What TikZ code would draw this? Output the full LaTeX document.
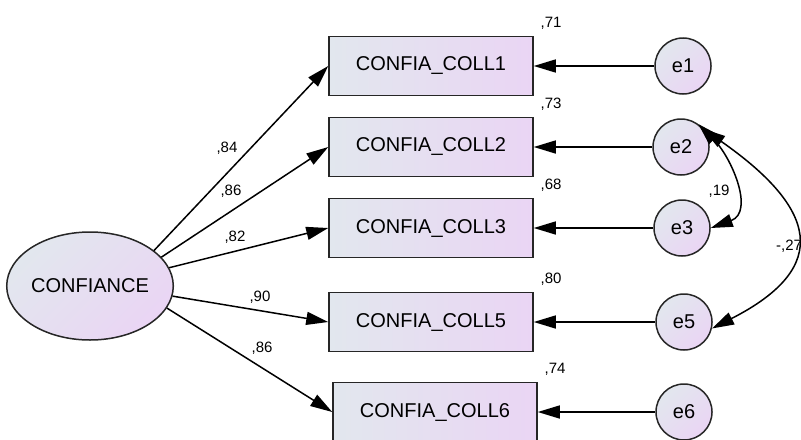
\documentclass[tikz,border=0pt]{standalone}
\usepackage{fontspec}
\setmainfont{Liberation Sans}
\usetikzlibrary{arrows.meta}
\usetikzlibrary{shapes.geometric}
\definecolor{shadeA}{RGB}{226,231,238}
\definecolor{shadeB}{RGB}{234,213,244}

\begin{document}
\begin{tikzpicture}[x=0.5pt,y=-0.5pt,font=\fontsize{10}{12}\selectfont,
	obs/.style={draw=black!85,line width=0.75pt,left color=shadeA,right color=shadeB,minimum width=102pt,minimum height=29.5pt,inner sep=0pt},
	lat/.style={ellipse,draw=black!85,line width=0.75pt,left color=shadeA,right color=shadeB,shading angle=45,minimum width=80pt,minimum height=54pt,inner sep=0pt},
	err/.style={circle,draw=black!85,line width=0.75pt,left color=shadeA,right color=shadeB,shading angle=45,minimum size=28pt,inner sep=0pt},
	reg/.style={line width=0.75pt,-{Triangle[length=11pt,width=6.5pt]}},
	cov/.style={line width=0.75pt,{Triangle[length=11pt,width=6.5pt]}-{Triangle[length=11pt,width=6.5pt]}},
	coef/.style={font=\fontsize{7.5}{9}\selectfont,inner sep=0pt}]
	\useasboundingbox (0,0) rectangle (801,439);
	\node[lat] (conf) at (90,286) {CONFIANCE};
	% indicateurs et erreurs
	\foreach \n/\x/\y/\ex/\r in {1/431/66/683/71, 2/431/147/681/73, 3/431/228/682/68, 5/431/322/684/80, 6/435/412/684/74} {
		\node[obs] (c\n) at (\x,\y) {CONFIA\_COLL\n};
		\node[err] (e\n) at (\ex,\y) {e\n};
		\draw[reg] (e\n) -- (c\n);
		\node[coef] (r\n) at ([shift={(120,-43)}]c\n) {,\r};
	}
	% saturations
	\foreach \n/\a/\lx/\ly/\w in {1/29/227/148/84, 2/22/231/191/86, 3/13/235/237/82, 5/-7/260/297/90, 6/-16/262/348/86} {
		\draw[reg] (conf.\a) -- (c\n.west);
		\node[coef] (w\n) at (\lx,\ly) {,\w};
	}
	% covariances
	\draw[cov] (e2.53) to[out=-45,in=20,looseness=1.15] (e3.east);
	\draw[cov] (e2.39) to[out=-35,in=27,looseness=1.75] (e5.-13);
	\node[coef] (k23) at (719,191) {,19};
	\node[coef] (k25) at (789,246) {-,27};
\end{tikzpicture}
\end{document}
